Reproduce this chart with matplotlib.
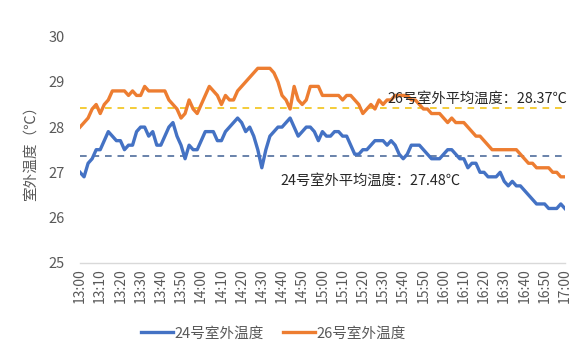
import matplotlib
matplotlib.use("Agg")
import matplotlib.pyplot as plt
import numpy as np

plt.rcParams['font.family'] = ['Noto Sans CJK SC', 'DejaVu Sans']

# readings every 2 minutes, 13:00 .. 17:00
minutes = list(range(0, 241, 2))

temp_24 = [
    27.0, 26.9, 27.2, 27.3, 27.5, 27.5, 27.7, 27.9, 27.8, 27.7,
    27.7, 27.5, 27.6, 27.6, 27.9, 28.0, 28.0, 27.8, 27.9, 27.6,
    27.6, 27.8, 28.0, 28.1, 27.8, 27.6, 27.3, 27.6, 27.5, 27.5,
    27.7, 27.9, 27.9, 27.9, 27.7, 27.7, 27.9, 28.0, 28.1, 28.2,
    28.1, 27.9, 28.0, 27.8, 27.5, 27.1, 27.5, 27.8, 27.9, 28.0,
    28.0, 28.1, 28.2, 28.0, 27.8, 27.9, 28.0, 28.0, 27.9, 27.7,
    27.9, 27.8, 27.8, 27.9, 27.9, 27.8, 27.8, 27.6, 27.4, 27.4,
    27.5, 27.5, 27.6, 27.7, 27.7, 27.7, 27.6, 27.7, 27.6, 27.4,
    27.3, 27.4, 27.6, 27.6, 27.6, 27.5, 27.4, 27.3, 27.3, 27.3,
    27.4, 27.5, 27.5, 27.4, 27.3, 27.3, 27.1, 27.2, 27.2, 27.0,
    27.0, 26.9, 26.9, 26.9, 27.0, 26.8, 26.7, 26.8, 26.7, 26.7,
    26.6, 26.5, 26.4, 26.3, 26.3, 26.3, 26.2, 26.2, 26.2, 26.3,
    26.2,
]

temp_26 = [
    28.0, 28.1, 28.2, 28.4, 28.5, 28.3, 28.5, 28.6, 28.8, 28.8,
    28.8, 28.8, 28.7, 28.8, 28.7, 28.7, 28.9, 28.8, 28.8, 28.8,
    28.8, 28.8, 28.6, 28.5, 28.4, 28.2, 28.3, 28.6, 28.4, 28.3,
    28.5, 28.7, 28.9, 28.8, 28.7, 28.5, 28.7, 28.6, 28.6, 28.8,
    28.9, 29.0, 29.1, 29.2, 29.3, 29.3, 29.3, 29.3, 29.2, 29.0,
    28.7, 28.6, 28.4, 28.9, 28.6, 28.5, 28.6, 28.9, 28.9, 28.9,
    28.7, 28.7, 28.7, 28.7, 28.7, 28.6, 28.7, 28.7, 28.6, 28.5,
    28.3, 28.4, 28.5, 28.4, 28.6, 28.5, 28.6, 28.6, 28.7, 28.7,
    28.7, 28.7, 28.6, 28.6, 28.5, 28.4, 28.4, 28.3, 28.3, 28.3,
    28.2, 28.1, 28.2, 28.1, 28.1, 28.1, 28.0, 27.9, 27.8, 27.8,
    27.7, 27.6, 27.5, 27.5, 27.5, 27.5, 27.5, 27.5, 27.5, 27.4,
    27.3, 27.2, 27.2, 27.1, 27.1, 27.1, 27.1, 27.0, 27.0, 26.9,
    26.9,
]

# average reference lines as drawn, and the values printed in the notes
avg_line_24 = 27.37
avg_line_26 = 28.43
avg_text_24 = 27.48
avg_text_26 = 28.37

tick_minutes = list(range(0, 241, 10))
tick_labels = [f"{13 + m // 60}:{m % 60:02d}" for m in tick_minutes]

BLUE = "#4472C4"
ORANGE = "#ED7D31"
GREY = "#595959"

fig = plt.figure(figsize=(5.82, 3.56), dpi=100)
ax = fig.add_axes([0.1375, 0.262, 0.833, 0.635])

ax.axhline(avg_line_26, color="#F2C318", ls=(0, (4, 3.5)), lw=1.2, zorder=2)
ax.axhline(avg_line_24, color="#4F6D9C", ls=(0, (4, 3.5)), lw=1.2, zorder=2)

ax.plot(minutes, temp_24, color=BLUE, lw=2.4, solid_joinstyle="round",
        label="24号室外温度", zorder=3)
ax.plot(minutes, temp_26, color=ORANGE, lw=2.4, solid_joinstyle="round",
        label="26号室外温度", zorder=3)

ax.text(152, 28.63, f"26号室外平均温度：{avg_text_26}℃", fontsize=10.3,
        color="#262626", va="center", ha="left")
ax.text(99, 26.82, f"24号室外平均温度：{avg_text_24}℃", fontsize=10.3,
        color="#262626", va="center", ha="left")

ax.set_xlim(0, 240)
ax.set_ylim(25, 30)
ax.set_yticks([25, 26, 27, 28, 29, 30])
ax.set_xticks(tick_minutes)
ax.set_xticklabels(tick_labels, rotation=90)

for s in ("top", "right", "left"):
    ax.spines[s].set_visible(False)
ax.spines["bottom"].set_color("#D9D9D9")
ax.spines["bottom"].set_linewidth(1.0)
ax.tick_params(axis="y", length=0, pad=11, labelsize=10.5, labelcolor=GREY)
ax.tick_params(axis="x", length=0, pad=4, labelsize=10, labelcolor=GREY)

ax.set_ylabel("室外温度（℃）", fontsize=10.5, color=GREY, labelpad=8)

fig.legend(loc="center", bbox_to_anchor=(0.47, 0.063), ncol=2, frameon=False,
           fontsize=10.5, handlelength=2.2, columnspacing=1.3, handletextpad=0.1,
           labelcolor=GREY)

fig.savefig("out.png", dpi=100)
